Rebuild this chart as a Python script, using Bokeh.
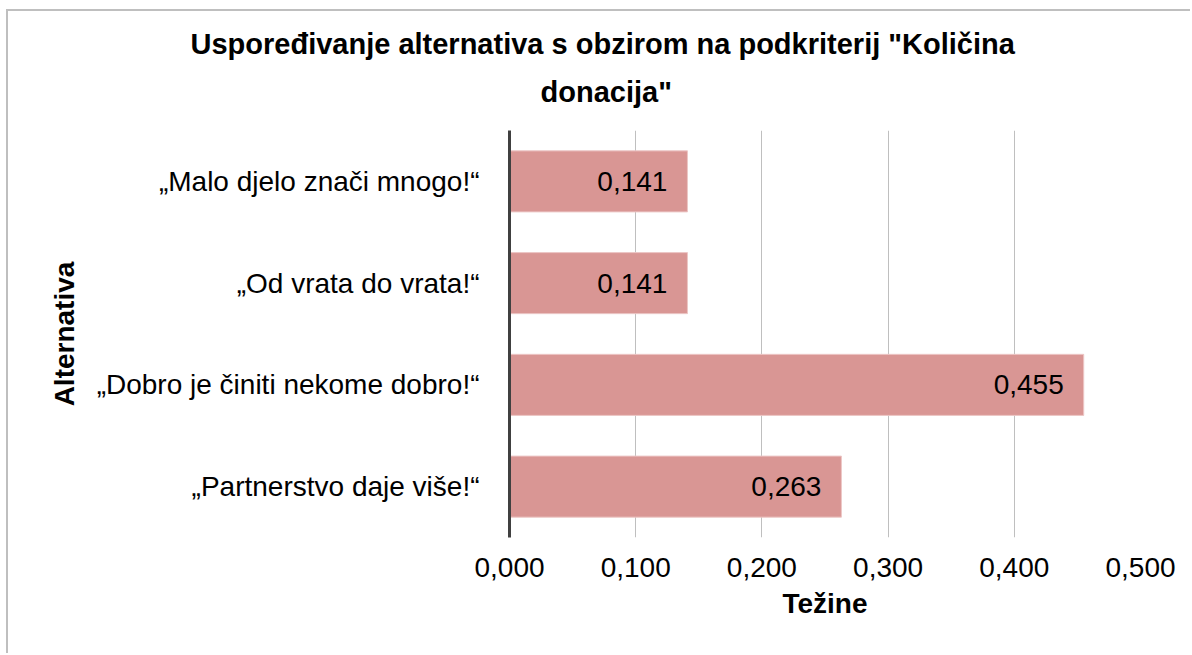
from bokeh.plotting import figure
from bokeh.models import ColumnDataSource, FactorRange, Range1d, CustomJSTickFormatter, FixedTicker, Title
from bokeh.core.properties import value
from bokeh.embed import file_html
from bokeh.resources import INLINE

categories = ["„Malo djelo znači mnogo!“", "„Od vrata do vrata!“",
              "„Dobro je činiti nekome dobro!“", "„Partnerstvo daje više!“"]
weights = [0.141, 0.141, 0.455, 0.263]
tick_values = [0.0, 0.1, 0.2, 0.3, 0.4, 0.5]
title_lines = ['Uspoređivanje alternativa s obzirom na podkriterij "Količina', 'donacija"']

FONT = "Liberation Sans"
labels = [f"{w:.3f}".replace(".", ",") for w in weights]
src = ColumnDataSource(dict(cat=categories, w=weights, lab=labels))

p = figure(width=1184, height=644, output_backend="svg", toolbar_location=None,
           y_range=FactorRange(factors=list(reversed(categories))),
           x_range=Range1d(0, 0.5), title=None,
           min_border_left=501, min_border_right=52, min_border_top=119, min_border_bottom=118)
p.styles = {"border-left": "2px solid #bfbfbf", "border-top": "2px solid #bfbfbf",
            "margin-left": "6px", "margin-top": "9px"}
p.outline_line_color = None

t2 = Title(text=title_lines[1], align="left", offset=31, text_font=FONT, text_font_size="29px",
           text_font_style="bold", text_color="#000000", standoff=46)
t1 = Title(text=title_lines[0], align="left", offset=-319, text_font=FONT, text_font_size="29px",
           text_font_style="bold", text_color="#000000", standoff=-18)
p.add_layout(t2, "above")
p.add_layout(t1, "above")

p.hbar(y="cat", right="w", left=0, height=0.6, source=src,
       fill_color="#d99694", line_color="#ecc6c5", line_width=1)
p.text(x="w", y="cat", text="lab", source=src, x_offset=-20, text_align="right",
       text_baseline="middle", text_font=value(FONT), text_font_size="28px", text_color="#000000")

p.xaxis.ticker = FixedTicker(ticks=tick_values)
p.xaxis.formatter = CustomJSTickFormatter(code="return tick.toFixed(3).replace('.', ',');")
p.xaxis.axis_line_color = None
p.xaxis.major_tick_line_color = None
p.xaxis.minor_tick_line_color = None
p.xaxis.major_label_standoff = 14
p.xaxis.major_label_text_font = FONT
p.xaxis.major_label_text_font_size = "28px"
p.xaxis.major_label_text_color = "#000000"
p.xaxis.axis_label = "Težine"
p.xaxis.axis_label_text_font = FONT
p.xaxis.axis_label_text_font_size = "28px"
p.xaxis.axis_label_text_font_style = "bold"
p.xaxis.axis_label_text_color = "#000000"
p.xaxis.axis_label_standoff = 8

p.yaxis.axis_line_color = "#404040"
p.yaxis.axis_line_width = 3
p.yaxis.major_tick_line_color = None
p.yaxis.minor_tick_line_color = None
p.yaxis.major_label_standoff = 24
p.yaxis.major_label_text_font = FONT
p.yaxis.major_label_text_font_size = "28px"
p.yaxis.major_label_text_color = "#000000"
p.yaxis.axis_label = "Alternativa"
p.yaxis.axis_label_text_font = FONT
p.yaxis.axis_label_text_font_size = "28px"
p.yaxis.axis_label_text_font_style = "bold"
p.yaxis.axis_label_text_color = "#000000"
p.yaxis.axis_label_standoff = 14

p.xgrid.grid_line_color = "#bfbfbf"
p.xgrid.grid_line_width = 1
p.ygrid.grid_line_color = None

open("out.html", "w").write(file_html(p, INLINE))
